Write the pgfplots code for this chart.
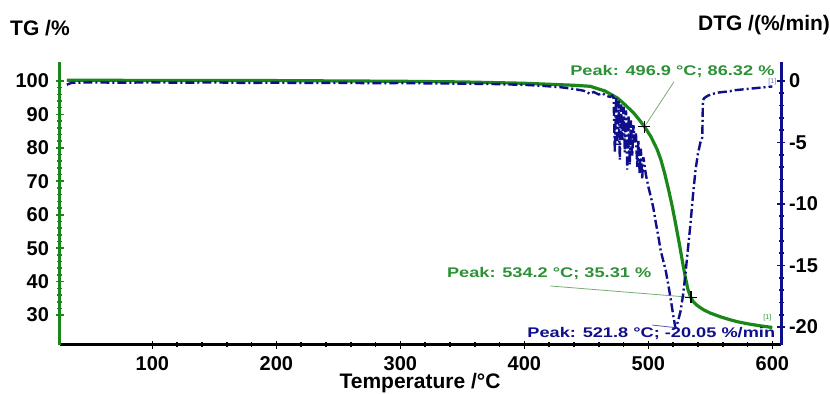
\documentclass[border=0pt]{standalone}
\usepackage{pgfplots}
\pgfplotsset{compat=1.18}
\usepackage{fontspec}
\setmainfont{Liberation Sans}
\usepackage{graphicx}
\definecolor{tggreen}{RGB}{25,135,25}
\definecolor{dtgblue}{RGB}{15,15,140}
\definecolor{anngreen}{RGB}{45,145,55}
\definecolor{leader}{RGB}{120,170,120}
\newcommand{\ann}[1]{\scalebox{1.3}[1]{\fontsize{7}{8}\selectfont\bfseries #1}}
\begin{document}
\begin{tikzpicture}
\useasboundingbox (-30pt,-24.5pt) rectangle (385pt,172.5pt);
\begin{axis}[
  scale only axis, width=360.5pt, height=141.5pt,
  xmin=25.5, xmax=607, ymin=21.06, ymax=105.66,
  axis x line=bottom, axis y line=left,
  axis line style={-},
  x axis line style={black, line width=1.5pt, -},
  y axis line style={tggreen, line width=1.5pt, -},
  xtick={100,200,...,600}, ytick={30,40,...,100},
  minor x tick num=4, minor y tick num=4,
  tick align=center, major tick length=4pt, minor tick length=2.5pt,
  xtick style={black, line width=0.8pt},
  ytick style={tggreen, line width=0.8pt},
  ticklabel style={font=\fontsize{10}{12}\selectfont\bfseries, text=black},
  /pgf/number format/assume math mode=true,
  clip=false,
]
\addplot[tggreen, line width=1.6pt] coordinates {
(31,100.2) (50,100.2) (100,100.15) (150,100.15) (200,100.1) (250,100.0) (300,99.9) (350,99.7) (400,99.3) (420,99.0) (440,98.7) (453,98.4) (465,97.0) (475,94.9) (480,93.3) (488,90.5) (492,88.7) (496.9,86.32) (502,83.4) (507,79.6) (510,76.6) (513,72.6) (516,68.0) (519,63.0) (522,57.3) (525,51.3) (528,45.0) (530,41.0) (532,37.6) (534.2,35.31) (536,34.1) (539,33.0) (542,32.2) (545,31.5) (550,30.6) (558,29.5) (565,28.7) (572,28.0) (580,27.4) (590,26.8) (600,26.3)
};
\addplot[only marks, mark=+, mark size=3pt, black, line width=0.8pt] coordinates {(496.9,86.32) (534.2,35.31)};
\draw[leader, line width=0.4pt] (axis cs:520.6,99.7) -- (axis cs:496.9,86.32);
\draw[leader, line width=0.4pt] (axis cs:421,38.7) -- (axis cs:534.2,35.31);
\node[text=anngreen, inner sep=0pt] at (axis cs:519.4,102.9) {\ann{Peak: 496.9 °C; 86.32 \%}};
\node[text=anngreen, inner sep=0pt] at (axis cs:420,42.4) {\ann{Peak: 534.2 °C; 35.31 \%}};
\node[text=anngreen, inner sep=0pt, font=\fontsize{3.5}{4}\selectfont] at (axis cs:596,29.2) {[1]};
\end{axis}
\begin{axis}[
  scale only axis, width=360.5pt, height=141.5pt,
  xmin=25.5, xmax=607, ymin=-21.46, ymax=1.54,
  axis x line=none, axis y line=right,
  axis line style={-},
  y axis line style={dtgblue, line width=1.5pt, -},
  ytick={-20,-15,...,0}, minor y tick num=4,
  tick align=center, major tick length=4pt, minor tick length=2.5pt,
  ytick style={dtgblue, line width=0.8pt},
  ticklabel style={font=\fontsize{10}{12}\selectfont\bfseries, text=black},
  yticklabel style={xshift=-1.5pt},
  /pgf/number format/assume math mode=true,
  clip=false,
]
\addplot[dtgblue, line width=1.2pt, dash pattern=on 4.5pt off 1.5pt on 1pt off 1.5pt] coordinates {
(31,-0.3) (35,-0.15) (50,-0.12) (75,-0.14) (100,-0.12) (125,-0.14) (150,-0.12) (175,-0.16) (200,-0.14) (225,-0.17) (250,-0.15) (275,-0.18) (300,-0.17) (325,-0.2) (350,-0.22) (375,-0.25) (400,-0.32) (415,-0.4) (430,-0.52) (440,-0.65) (448,-0.8) (453,-1.05) (456,-0.9) (460,-1.1) (463,-1.0) (466,-1.2) (469,-1.3) (471,-1.2) (472,-1.4) (473,-5.8) (474,-1.3) (475,-5.2) (476,-1.6) (477,-6.4) (478,-1.9) (479,-4.8) (480,-2.1) (481,-5.8) (482,-2.4) (483,-7.2) (484,-2.8) (485,-6.8) (486,-3.2) (487,-6.1) (488,-3.6) (489,-5.0) (490,-4.2) (491,-7.0) (492,-4.8) (493,-7.6) (494,-5.5) (495,-8.0) (496,-6.2) (498,-7.6) (500,-8.6) (502,-9.4) (504,-10.3) (506,-11.5) (508,-12.6) (510,-13.8) (512,-14.6) (514,-15.4) (516,-16.5) (518,-17.7) (520,-19.0) (521.8,-20.05) (522.5,-20.0) (524,-19.5) (526,-18.7) (528,-17.4) (530,-15.6) (532,-13.6) (534,-11.6) (536,-9.3) (538,-7.3) (540,-5.9) (542,-5.0) (543.5,-4.6) (544,-1.6) (545,-1.4) (548,-1.2) (552,-1.05) (556,-0.95) (560,-0.9) (565,-0.85) (570,-0.75) (575,-0.7) (580,-0.65) (585,-0.6) (590,-0.55) (595,-0.5) (600,-0.45)
};
\draw[dtgblue!70, line width=0.4pt] (axis cs:503.2,-19.84) -- (axis cs:521.8,-20.05);
\node[text=dtgblue, inner sep=0pt] at (axis cs:502.4,-20.5) {\ann{Peak: 521.8 °C; -20.05 \%/min}};
\node[text=dtgblue!60, inner sep=0pt, font=\fontsize{3.5}{4}\selectfont] at (axis cs:600,-0.05) {[1]};
\end{axis}
\node[font=\fontsize{10.5}{12}\selectfont\bfseries] at (-10pt,158.5pt) {TG /\%};
\node[font=\fontsize{10.5}{12}\selectfont\bfseries] at (352pt,160pt) {DTG /(\%/min)};
\node[font=\fontsize{10.5}{12}\selectfont\bfseries] at (180pt,-19pt) {Temperature /°C};
\end{tikzpicture}
\end{document}
